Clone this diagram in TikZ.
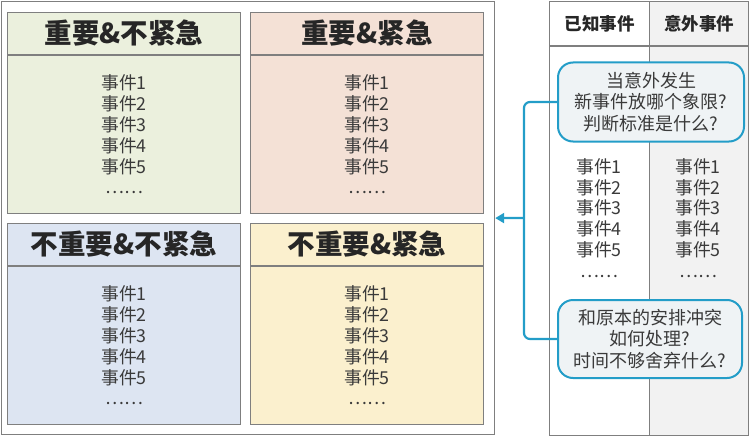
\documentclass[tikz,border=0pt]{standalone}
\usepackage{fontspec}
\setmainfont{Noto Sans CJK SC}
\usetikzlibrary{positioning,arrows.meta}
\definecolor{framegray}{HTML}{7F7F7F}
\definecolor{headtext}{HTML}{262626}
\definecolor{bodytext}{HTML}{3A3A3A}
\definecolor{greenfill}{HTML}{EBF0DD}
\definecolor{peachfill}{HTML}{F4E1D6}
\definecolor{bluefill}{HTML}{DDE5F2}
\definecolor{yellowfill}{HTML}{FBF0CE}
\definecolor{colgray}{HTML}{F2F2F2}
\definecolor{linkblue}{HTML}{239DC8}
\definecolor{calloutfill}{HTML}{EFF3F5}
\begin{document}
\begin{tikzpicture}
[x=1pt,y=-1pt,
  framedecorate/.style={draw=framegray,line width=1.2pt,inner sep=0pt,anchor=north west},
  headdecorate/.style={draw=framegray,line width=1pt,inner sep=0pt,anchor=north west,
    minimum width=233pt,minimum height=42pt,text=headtext,
    font=\fontsize{27.5}{30}\selectfont\bfseries},
  bodydecorate/.style={draw=framegray,line width=1pt,inner sep=0pt,
    minimum width=233pt,minimum height=158pt,align=center,text=bodytext,
    font=\fontsize{17.8}{20.8}\selectfont},
  colheaddecorate/.style={draw=framegray,line width=1pt,inner sep=0pt,anchor=north west,
    minimum width=100pt,minimum height=44pt,text=headtext,
    font=\fontsize{17.5}{20}\selectfont\bfseries},
  colbodydecorate/.style={draw=framegray,line width=1pt,inner sep=0pt,
    minimum width=100pt,minimum height=389pt},
  eventdecorate/.style={align=center,text=bodytext,font=\fontsize{17.8}{20.8}\selectfont},
  calloutdecorate/.style={draw=linkblue,line width=2pt,fill=calloutfill,rounded corners=15pt,
    minimum width=186pt,minimum height=79pt,inner sep=0pt,align=center,text=bodytext,
    font=\fontsize{18}{21.5}\selectfont},
  linkdecorate/.style={draw=linkblue,line width=2.2pt,rounded corners=6pt}]
\useasboundingbox (0,0) rectangle (749,436);
%%% four quadrants
% outer frame
\node (frame) at (1,1) [framedecorate,minimum width=493pt,minimum height=433pt] {};
% headers and bodies
\node (h1) at (7,12) [headdecorate,fill=greenfill] {重要\&不紧急};
\node (b1) [below=0pt of h1,bodydecorate,fill=greenfill] {事件1\\事件2\\事件3\\事件4\\事件5\\……};
\node (h2) at (250,12) [headdecorate,fill=peachfill] {重要\&紧急};
\node (b2) [below=0pt of h2,bodydecorate,fill=peachfill] {事件1\\事件2\\事件3\\事件4\\事件5\\……};
\node (h3) at (7,223) [headdecorate,fill=bluefill] {不重要\&不紧急};
\node (b3) [below=0pt of h3,bodydecorate,fill=bluefill] {事件1\\事件2\\事件3\\事件4\\事件5\\……};
\node (h4) at (250,223) [headdecorate,fill=yellowfill] {不重要\&紧急};
\node (b4) [below=0pt of h4,bodydecorate,fill=yellowfill] {事件1\\事件2\\事件3\\事件4\\事件5\\……};
%
%%% event columns
\node (k) at (549,1) [colheaddecorate] {已知事件};
\node (kb) [below=0pt of k,colbodydecorate] {};
\node (u) at (649,1) [colheaddecorate,fill=colgray,minimum width=99pt] {意外事件};
\node (ub) [below=0pt of u,colbodydecorate,fill=colgray,minimum width=99pt] {};
\node (ke) at (599,218) [eventdecorate] {事件1\\事件2\\事件3\\事件4\\事件5\\……};
\node (ue) at (698,218) [eventdecorate] {事件1\\事件2\\事件3\\事件4\\事件5\\……};
%
%%% questions and link
\node (q1) at (651,102) [calloutdecorate] {当意外发生\\新事件放哪个象限?\\判断标准是什么?};
\node (q2) at (650,339) [calloutdecorate,minimum width=184pt,minimum height=78pt] {和原本的安排冲突\\如何处理?\\时间不够舍弃什么?};
\coordinate (bend) at (524,218);
\path[linkdecorate] (q1.west) -| (bend) |- (q2.west);
\path[linkdecorate,-{Triangle[length=9pt,width=10pt]}] (bend) -- (frame.east);
\end{tikzpicture}
\end{document}
